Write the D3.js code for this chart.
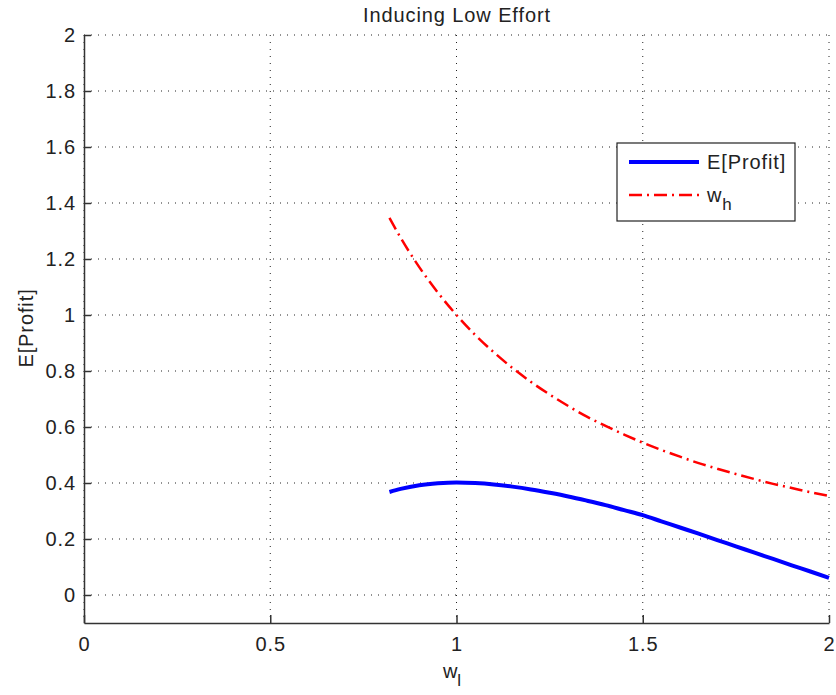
<!DOCTYPE html>
<html><head><meta charset="utf-8">
<script src="https://cdn.jsdelivr.net/npm/d3@7/dist/d3.min.js"></script>
<style>body{margin:0;background:#fff}svg{display:block}text{font-family:"Liberation Sans",Arial,sans-serif}</style>
</head><body><svg id="c" width="836" height="695"></svg>
<script>
const wl = [0.82,0.85,0.9,0.95,1.0,1.05,1.1,1.15,1.2,1.25,1.3,1.35,1.4,1.45,1.5,1.55,1.6,1.65,1.7,1.75,1.8,1.85,1.9,1.95,2.0];
const profit = [0.368,0.379,0.392,0.399,0.402,0.400,0.395,0.387,0.377,0.365,0.352,0.337,0.321,0.303,0.285,0.263,0.241,0.219,0.196,0.174,0.151,0.129,0.106,0.084,0.061];
const wh = [1.347,1.276,1.171,1.080,1.000,0.929,0.867,0.811,0.761,0.716,0.675,0.637,0.604,0.573,0.544,0.518,0.494,0.471,0.451,0.432,0.414,0.397,0.382,0.367,0.354];
const xTicks = [0,0.5,1,1.5,2];
const yTicks = [0,0.2,0.4,0.6,0.8,1,1.2,1.4,1.6,1.8,2];

const svg = d3.select("#c");
const L=84,R=829,T=35,B=623;
const x = d3.scaleLinear().domain([0,2]).range([L,R]);
const y = d3.scaleLinear().domain([-0.1,2]).range([B,T]);
const LS = "0.9px";

// grid
const g = svg.append("g");
g.selectAll(".vg").data(xTicks).join("line")
 .attr("x1",d=>x(d)).attr("x2",d=>x(d)).attr("y1",T).attr("y2",B)
 .attr("stroke","#222").attr("stroke-width",1).attr("stroke-dasharray","1,6");
g.selectAll(".hg").data(yTicks).join("line")
 .attr("y1",d=>y(d)).attr("y2",d=>y(d)).attr("x1",L).attr("x2",R)
 .attr("stroke","#222").attr("stroke-width",1).attr("stroke-dasharray","1,6");

// axes
const xa = svg.append("g").attr("transform",`translate(0,${B})`)
 .call(d3.axisBottom(x).tickValues(xTicks).tickSizeInner(-8).tickSizeOuter(0).tickPadding(15).tickFormat(d3.format("")));
const ya = svg.append("g").attr("transform",`translate(${L},0)`)
 .call(d3.axisLeft(y).tickValues(yTicks).tickSizeInner(-7).tickSizeOuter(0).tickPadding(15).tickFormat(d3.format("")));
[xa,ya].forEach(a=>{
  a.select(".domain").attr("stroke","#333").attr("stroke-width",1.5);
  a.selectAll(".tick line").attr("stroke","#333").attr("stroke-width",1.5);
  a.selectAll("text").attr("font-size",20).attr("fill","#222").attr("letter-spacing",LS).attr("font-family","Liberation Sans, Arial, sans-serif");
});
ya.selectAll("text").attr("x",-8);
xa.selectAll("text").attr("y",14);

// lines
const line = d3.line().x(d=>x(d[0])).y(d=>y(d[1])).curve(d3.curveMonotoneX);
svg.append("path").datum(wl.map((w,i)=>[w,wh[i]])).attr("d",line)
 .attr("fill","none").attr("stroke","#ff0000").attr("stroke-width",2.5).attr("stroke-dasharray","13,5,2,5");
svg.append("path").datum(wl.map((w,i)=>[w,profit[i]])).attr("d",line)
 .attr("fill","none").attr("stroke","#0000ff").attr("stroke-width",4);

// title and labels
svg.append("text").attr("x",457).attr("y",22).attr("text-anchor","middle").attr("font-size",20).attr("letter-spacing",LS).attr("fill","#222").text("Inducing Low Effort");
const xl = svg.append("text").attr("x",452).attr("y",678).attr("text-anchor","middle").attr("font-size",20).attr("fill","#222");
xl.append("tspan").text("w");
xl.append("tspan").attr("dy",8).attr("font-size",17).text("l");
svg.append("text").attr("transform","translate(33,328) rotate(-90)").attr("text-anchor","middle").attr("font-size",20).attr("letter-spacing",LS).attr("fill","#222").text("E[Profit]");

// legend
const lg = svg.append("g");
lg.append("rect").attr("x",617).attr("y",143).attr("width",178).attr("height",78).attr("fill","#fff").attr("stroke","#222").attr("stroke-width",1.2);
const items = [{name:"E[Profit]",color:"#0000ff",w:4,dash:null},{name:"w",sub:"h",color:"#ff0000",w:2.5,dash:"13,5,2,5"}];
items.forEach((it,i)=>{
  const yy = 162 + i*33;
  lg.append("line").attr("x1",629).attr("x2",699).attr("y1",yy).attr("y2",yy)
   .attr("stroke",it.color).attr("stroke-width",it.w).attr("stroke-dasharray",it.dash);
  const t = lg.append("text").attr("x",707).attr("y",yy+7).attr("font-size",20).attr("letter-spacing",LS).attr("fill","#222");
  t.append("tspan").text(it.name);
  if(it.sub) t.append("tspan").attr("dy",8).attr("font-size",17).text(it.sub);
});
</script></body></html>
